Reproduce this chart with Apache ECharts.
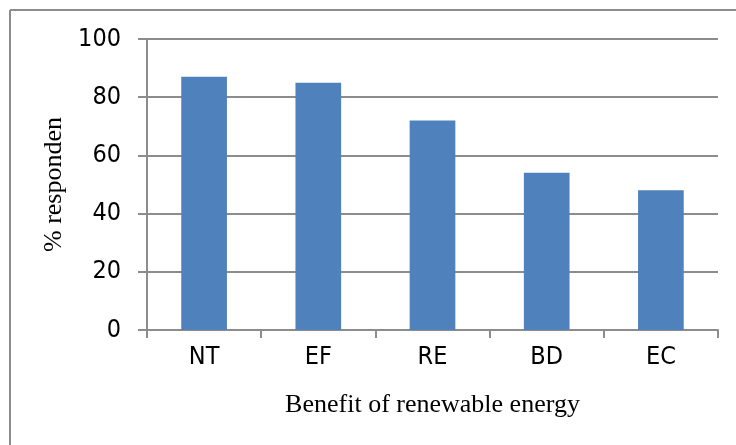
<!DOCTYPE html>
<html>
<head>
<meta charset="utf-8">
<script src="https://cdn.jsdelivr.net/npm/echarts@6/dist/echarts.min.js"></script>
<style>
html,body{margin:0;padding:0;background:#fff;}
#chart{width:736px;height:445px;}
</style>
</head>
<body>
<div id="chart"></div>
<script>
const categories = ['NT', 'EF', 'RE', 'BD', 'EC'];
const values = [87, 85, 72, 54, 48];
const yTicks = { min: 0, max: 100, interval: 20 };
const xTitle = 'Benefit of renewable energy';
const yTitle = '% responden';

const gray = '#8c8c8c';
const tickFont = "'Liberation Sans Narrow', 'DejaVu Sans Condensed', sans-serif";
const titleFont = "'Liberation Serif', 'Times New Roman', serif";

const chart = echarts.init(document.getElementById('chart'), null, { renderer: 'canvas' });
chart.setOption({
  animation: false,
  backgroundColor: '#fff',
  grid: { left: 147, right: 18, top: 39, bottom: 115, containLabel: false },
  graphic: [
    { type: 'line', shape: { x1: 10, y1: 10, x2: 736, y2: 10 }, style: { stroke: gray, lineWidth: 2 } },
    { type: 'line', shape: { x1: 10, y1: 10, x2: 10, y2: 445 }, style: { stroke: gray, lineWidth: 2 } }
  ],
  xAxis: {
    type: 'category',
    data: categories,
    name: xTitle,
    nameLocation: 'middle',
    nameGap: 62,
    nameTextStyle: { fontFamily: titleFont, fontSize: 26, color: '#000' },
    axisLine: { lineStyle: { color: gray, width: 2 } },
    axisTick: { show: true, length: 8, lineStyle: { color: gray, width: 2 } },
    axisLabel: { color: '#000', fontFamily: tickFont, fontSize: 25, margin: 15 }
  },
  yAxis: {
    type: 'value',
    min: yTicks.min, max: yTicks.max, interval: yTicks.interval,
    name: yTitle,
    nameLocation: 'middle',
    nameGap: 68,
    nameRotate: 90,
    nameTextStyle: { fontFamily: titleFont, fontSize: 26, color: '#000' },
    axisLine: { show: true, lineStyle: { color: gray, width: 2 } },
    axisTick: { show: true, length: 9, lineStyle: { color: gray, width: 2 } },
    splitLine: { show: true, lineStyle: { color: gray, width: 2 } },
    axisLabel: { color: '#000', fontFamily: tickFont, fontSize: 25, margin: 26 }
  },
  series: [{
    type: 'bar',
    data: values,
    barWidth: '40%',
    itemStyle: { color: '#4f81bd' }
  }]
});
</script>
</body>
</html>
